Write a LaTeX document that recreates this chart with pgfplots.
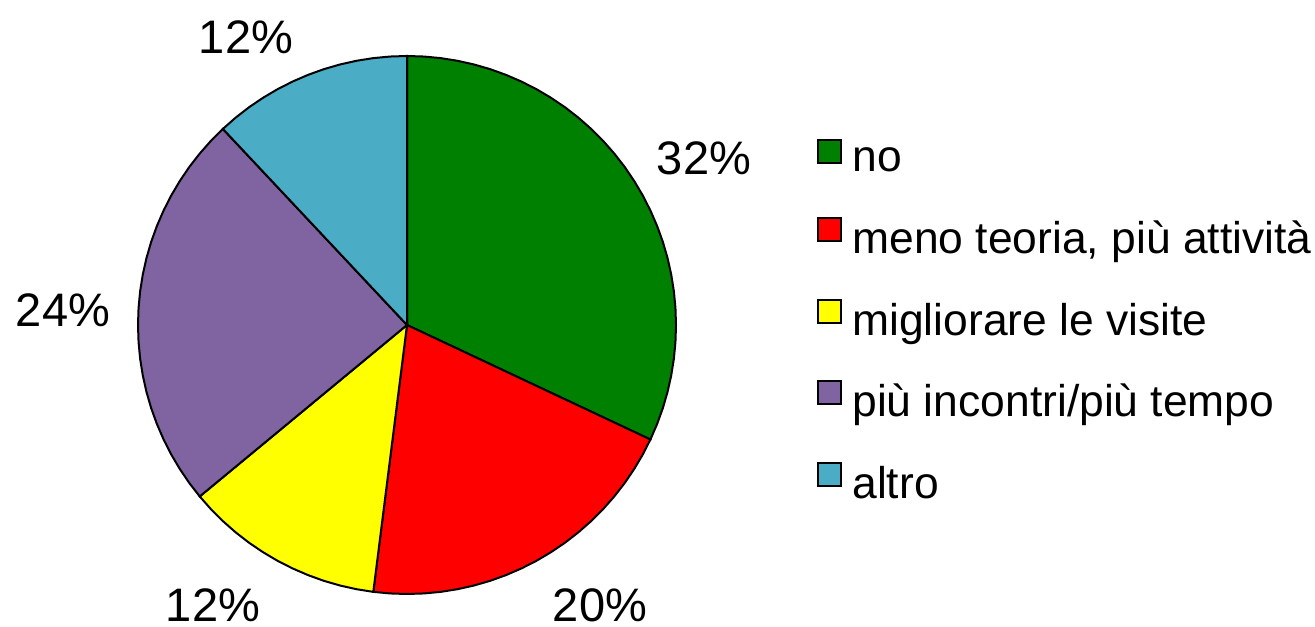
\documentclass[border=0pt]{standalone}
\usepackage{pgfplots}
\pgfplotsset{compat=1.18}
\usepackage{fontspec}
\setmainfont{Liberation Sans}
\definecolor{cgreen}{HTML}{008000}
\definecolor{cred}{HTML}{FF0000}
\definecolor{cyellow}{HTML}{FFFF00}
\definecolor{cpurple}{HTML}{8064A2}
\definecolor{cblue}{HTML}{4BACC6}
\begin{document}
\fontsize{23bp}{27bp}\selectfont
\begin{tikzpicture}
\begin{axis}[
  x=0.5bp, y=0.5bp,
  xmin=-407, xmax=908, ymin=-302, ymax=325,
  hide axis, clip=false,
  legend cell align=left,
  legend style={draw=none, fill=none, at={(axis cs:410,186)}, anchor=north west,
    font=\fontsize{22.2bp}{26bp}\selectfont, row sep=17bp, inner sep=0pt,
    /tikz/every odd column/.append style={column sep=3bp}},
  legend image code/.code={\draw[#1, draw=black, line width=1bp] (0bp,0bp) rectangle (11.5bp,11.5bp);},
]
\addplot[fill=cgreen, draw=black, line width=1bp, data cs=polar] coordinates {(0,0) (90,269) (86.4,269) (82.8,269) (79.2,269) (75.6,269) (72,269) (68.4,269) (64.8,269) (61.2,269) (57.6,269) (54,269) (50.4,269) (46.8,269) (43.2,269) (39.6,269) (36,269) (32.4,269) (28.8,269) (25.2,269) (21.6,269) (18,269) (14.4,269) (10.8,269) (7.2,269) (3.6,269) (0,269) (-3.6,269) (-7.2,269) (-10.8,269) (-14.4,269) (-18,269) (-21.6,269) (-25.2,269)} -- cycle;
\addlegendentry{no}
\addplot[fill=cred, draw=black, line width=1bp, data cs=polar] coordinates {(0,0) (-25.2,269) (-28.8,269) (-32.4,269) (-36,269) (-39.6,269) (-43.2,269) (-46.8,269) (-50.4,269) (-54,269) (-57.6,269) (-61.2,269) (-64.8,269) (-68.4,269) (-72,269) (-75.6,269) (-79.2,269) (-82.8,269) (-86.4,269) (-90,269) (-93.6,269) (-97.2,269)} -- cycle;
\addlegendentry{meno teoria, più attività}
\addplot[fill=cyellow, draw=black, line width=1bp, data cs=polar] coordinates {(0,0) (-97.2,269) (-100.8,269) (-104.4,269) (-108,269) (-111.6,269) (-115.2,269) (-118.8,269) (-122.4,269) (-126,269) (-129.6,269) (-133.2,269) (-136.8,269) (-140.4,269)} -- cycle;
\addlegendentry{migliorare le visite}
\addplot[fill=cpurple, draw=black, line width=1bp, data cs=polar] coordinates {(0,0) (-140.4,269) (-144,269) (-147.6,269) (-151.2,269) (-154.8,269) (-158.4,269) (-162,269) (-165.6,269) (-169.2,269) (-172.8,269) (-176.4,269) (-180,269) (-183.6,269) (-187.2,269) (-190.8,269) (-194.4,269) (-198,269) (-201.6,269) (-205.2,269) (-208.8,269) (-212.4,269) (-216,269) (-219.6,269) (-223.2,269) (-226.8,269)} -- cycle;
\addlegendentry{più incontri/più tempo}
\addplot[fill=cblue, draw=black, line width=1bp, data cs=polar] coordinates {(0,0) (-226.8,269) (-230.4,269) (-234,269) (-237.6,269) (-241.2,269) (-244.8,269) (-248.4,269) (-252,269) (-255.6,269) (-259.2,269) (-262.8,269) (-266.4,269) (-270,269)} -- cycle;
\addlegendentry{altro}
\addplot[only marks, mark=none, forget plot, nodes near coords, point meta=explicit symbolic,
  nodes near coords align=center,
  every node near coord/.append style={anchor=center, inner sep=0pt, font=\fontsize{23.5bp}{27bp}\selectfont}]
  coordinates {(297,167) [32\%] (193,-280) [20\%] (-194,-280) [12\%] (-344,15) [24\%] (-161,288) [12\%]};
\coordinate (bl) at (axis cs:-407,-302);
\coordinate (tr) at (axis cs:908,325);
\end{axis}
\pgfresetboundingbox
\path (bl) rectangle (tr);
\end{tikzpicture}
\end{document}
